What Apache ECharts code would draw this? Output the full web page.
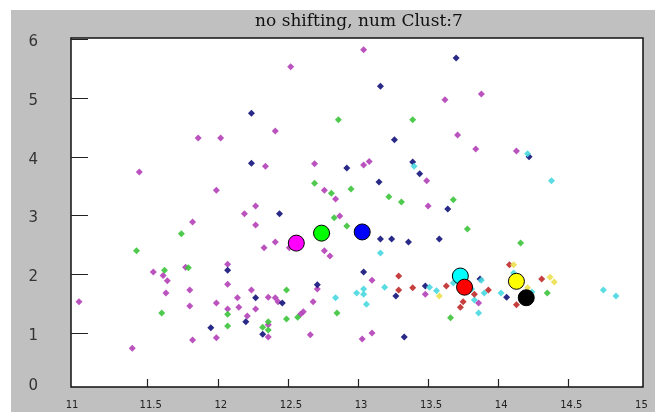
<!DOCTYPE html>
<html>
<head>
<meta charset="utf-8">
<script src="https://cdn.jsdelivr.net/npm/echarts@6/dist/echarts.min.js"></script>
<style>html,body{margin:0;padding:0;background:#fff;}#c{width:663px;height:412px;}</style>
</head>
<body>
<div id="c"></div>
<script>
const titleText = 'no shifting, num Clust:7';
const xTicks = [11, 11.5, 12, 12.5, 13, 13.5, 14, 14.5, 15];
const yTicks = [0, 1, 2, 3, 4, 5, 6];
const yMin = 0.081;   // the frame bottom sits a little above y = 0
const yMax = 6;

const magentaPts = [
  [11.86,4.32],[12.02,4.32],[11.44,3.74],[11.99,3.43],[12.27,3.16],[13.04,5.82],[12.52,5.53],
  [13.62,4.97],[13.88,5.07],[12.41,4.44],[13.71,4.37],[12.34,3.84],[12.69,3.88],[13.04,3.86],[13.08,3.92],
  [13.49,3.59],[12.76,3.43],[12.84,3.28],[13.50,3.16],[13.84,4.13],[14.13,4.10],[12.19,3.03],
  [12.27,2.84],[11.82,2.89],[11.77,2.12],[11.54,2.04],[11.61,1.98],[11.64,1.89],[12.07,2.17],
  [12.07,1.83],[11.80,1.73],[11.63,1.68],[11.01,1.53],[11.80,1.46],[11.99,1.51],[12.14,1.60],
  [12.24,1.73],[12.15,1.44],[12.07,1.41],[12.27,1.41],[12.21,1.29],[11.82,0.88],[11.99,0.92],
  [11.39,0.74],[12.87,2.99],[12.78,2.69],[12.41,2.55],[12.33,2.45],[12.51,2.45],[12.76,2.40],
  [12.80,2.31],[13.10,1.90],[13.48,1.66],[12.71,1.75],[12.68,1.53],[12.36,1.61],[12.41,1.60],
  [12.43,1.53],[12.61,1.36],[12.59,1.32],[12.36,1.14],[12.36,0.93],[12.66,0.97],[13.03,0.90],
  [13.10,1.00],[13.86,1.51]
];
const navyPts = [
  [12.24,4.74],[12.24,3.89],[13.70,5.68],[13.16,5.20],[13.26,4.29],[12.92,3.81],[13.39,3.91],
  [13.44,3.71],[13.15,3.57],[13.64,3.11],[14.22,4.00],[12.07,2.07],[12.27,1.60],[12.20,1.19],
  [11.95,1.09],[12.44,3.03],[13.16,2.60],[13.24,2.60],[13.36,2.55],[13.58,2.60],[13.04,2.04],
  [13.48,1.80],[13.27,1.63],[12.71,1.82],[12.46,1.51],[12.32,0.98],[13.33,0.93],[13.87,1.92],
  [14.06,1.61]
];
const greenPts = [
  [12.86,4.63],[13.39,4.63],[12.69,3.55],[12.81,3.38],[12.95,3.45],[13.22,3.32],[13.31,3.23],
  [13.68,3.27],[11.74,2.69],[11.42,2.40],[11.79,2.11],[11.62,2.07],[12.07,1.32],[11.60,1.34],
  [12.07,1.12],[12.83,2.96],[12.92,2.82],[12.49,1.73],[12.57,1.27],[12.49,1.24],[12.85,1.34],
  [12.36,1.19],[12.32,1.10],[12.36,1.05],[13.66,1.26],[13.78,2.77],[14.16,2.53],[14.35,1.68]
];
const cyanPts = [
  [13.40,3.84],[14.21,4.05],[14.38,3.59],[13.16,2.36],[13.51,1.78],[13.56,1.72],[13.19,1.78],
  [12.84,1.60],[12.99,1.68],[13.04,1.75],[13.04,1.66],[13.06,1.49],[13.88,1.90],[14.11,2.02],
  [14.24,1.70],[14.02,1.68],[13.90,1.68],[13.83,1.56],[13.86,1.34],[13.68,1.85],[13.81,1.75],
  [14.75,1.73],[14.84,1.63]
];
const redPts = [
  [13.29,1.97],[13.29,1.73],[13.39,1.77],[13.63,1.80],[14.08,2.16],[14.31,1.92],[14.13,1.48],
  [13.93,1.73],[13.83,1.66],[13.75,1.53],[13.73,1.44]
];
const yellowPts = [
  [13.58,1.63],[14.11,2.16],[14.21,1.77],[14.37,1.95],[14.40,1.87]
];
const centroidNames = ['c1','c2','c3','c4','c5','c6','c7'];
const centroidPts = [
  [12.56,2.53],[12.74,2.70],[13.03,2.72],[13.73,1.97],[13.76,1.78],[14.13,1.88],[14.20,1.60]
];
const centroidColors = ['#ff00ff','#00ff00','#0000ff','#00ffff','#ff0000','#ffff00','#000000'];

const chart = echarts.init(document.getElementById('c'), null, {renderer:'canvas'});

function small(name, data, color){
  return {
    name: name, type: 'scatter', data: data, symbol: 'diamond', symbolSize: 7,
    itemStyle: {color: color, opacity: 0.9}, z: 3, silent: true
  };
}

const option = {
  backgroundColor: '#ffffff',
  animation: false,
  title: {
    text: titleText, left: 354, top: 8, textAlign: 'center',
    textStyle: {fontFamily: 'DejaVu Serif', fontSize: 17, fontWeight: 'normal', color: '#111'}
  },
  graphic: [
    {type:'rect', shape:{x:11, y:10, width:644, height:402}, style:{fill:'#c0c0c0'}, z:-20, silent:true},
    {type:'rect', shape:{x:71, y:38, width:572, height:349}, style:{fill:'#ffffff', stroke:'#111', lineWidth:1.5}, z:-10, silent:true}
  ],
  grid: [
    {left: 77.6, right: 24.6, top: 39.25, bottom: 25, containLabel: false},
    {left: 77.6, right: 24.6, top: 379, height: 8, containLabel: false}
  ],
  xAxis: [
    {
      type: 'value', min: xTicks[0], max: xTicks[xTicks.length-1], interval: 0.5,
      axisLine: {show: false}, splitLine: {show: false},
      axisTick: {show: false},
      axisLabel: {margin: 13, fontFamily: 'DejaVu Sans', fontSize: 10, color: '#222',
        showMinLabel: true, showMaxLabel: true,
        formatter: v => v === xTicks[0] ? '{a|' + v + '}' : '{b|' + v + '}',
        rich: {
          a: {fontFamily: 'DejaVu Sans', fontSize: 10, color: '#222', padding: [0, 11, 0, 0]},
          b: {fontFamily: 'DejaVu Sans', fontSize: 10, color: '#222', padding: [0, 0, 0, 6]}
        }
      }
    },
    {
      gridIndex: 1, type: 'value', min: xTicks[0], max: xTicks[xTicks.length-1], interval: 0.5,
      axisLine: {show: false}, axisTick: {show: false}, axisLabel: {show: false},
      splitLine: {show: true, showMinLine: false, showMaxLine: false,
        lineStyle: {color: '#222', width: 1.2, type: 'solid'}}
    }
  ],
  yAxis: [
    {
      type: 'value', min: yMin, max: yMax, offset: 6.6,
      axisLine: {show: false}, splitLine: {show: false},
      axisTick: {show: true, inside: true, length: 17, lineStyle: {color: '#222', width: 1},
        customValues: yTicks.slice(1)},
      axisLabel: {margin: 33, fontFamily: 'DejaVu Sans', fontSize: 15, color: '#333',
        customValues: yTicks.map(v => Math.max(v, yMin)),
        formatter: v => v < 0.5 ? '{z|0}' : '{n|' + v + '}',
        rich: {
          z: {fontFamily: 'DejaVu Sans', fontSize: 15, color: '#333', padding: [0, 0, 2, 0]},
          n: {fontFamily: 'DejaVu Sans', fontSize: 15, color: '#333', padding: [6, 0, 0, 0]}
        }
      }
    },
    {gridIndex: 1, type: 'value', min: 0, max: 1, show: false}
  ],
  series: [
    small('magenta', magentaPts, '#b440b8'),
    small('green', greenPts, '#3cc43c'),
    small('navy', navyPts, '#12127a'),
    small('cyan', cyanPts, '#48d8e0'),
    small('red', redPts, '#c02a2a'),
    small('yellow', yellowPts, '#ece050'),
    {
      name: 'centroids', type: 'scatter', z: 10, silent: true,
      data: centroidPts.map((p, i) => ({name: centroidNames[i], value: p,
        itemStyle: {color: centroidColors[i], opacity: 1}})),
      symbol: 'circle', symbolSize: 16,
      itemStyle: {borderColor: '#000', borderWidth: 1, opacity: 1}
    }
  ]
};
chart.setOption(option);
</script>
</body>
</html>
